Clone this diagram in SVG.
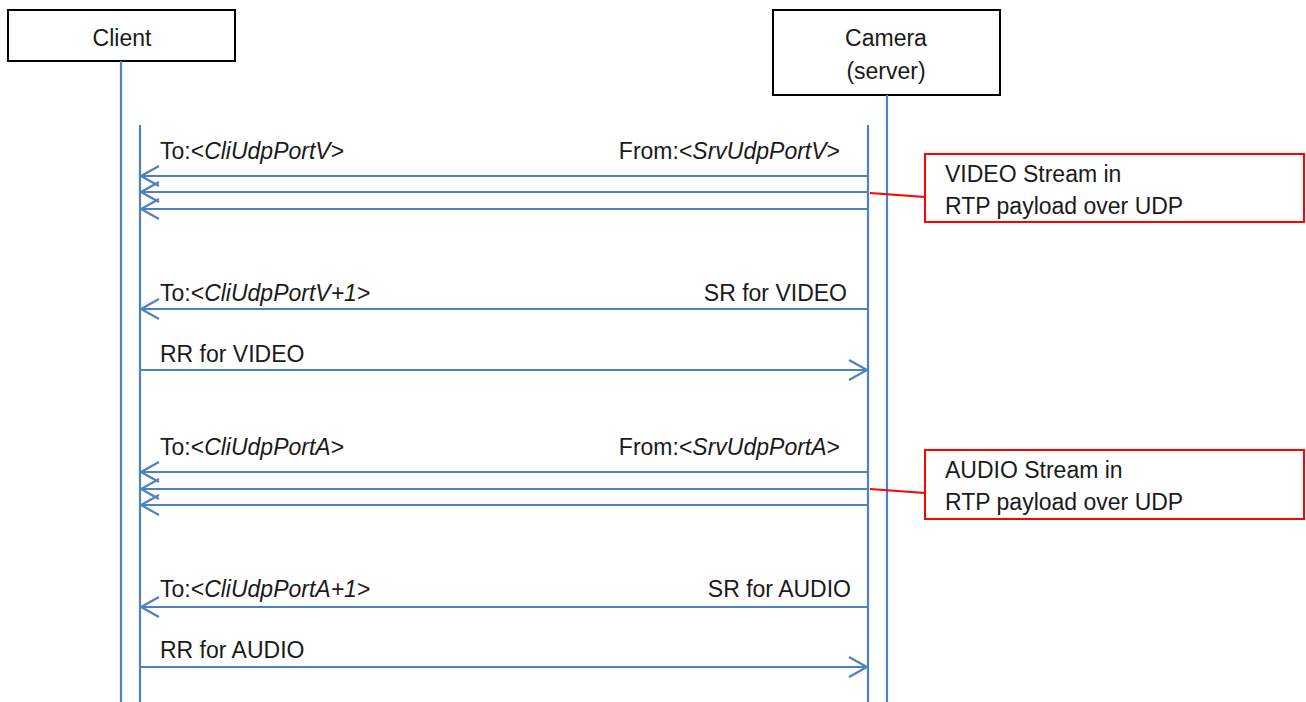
<svg xmlns="http://www.w3.org/2000/svg" width="1306" height="702" viewBox="0 0 1306 702">
<style>
text{font-family:"Liberation Sans",Arial,sans-serif;font-size:23px;fill:#1a1a1a}
.i{font-style:italic}
.box{fill:#fff;stroke:#000;stroke-width:2}
.life{stroke:#4F81BD;stroke-width:2.2;fill:none}
.msg{stroke:#4F81BD;stroke-width:2.2;fill:none;marker-end:url(#arr)}
.note{fill:#fff;stroke:#FF0000;stroke-width:2}
.link{stroke:#FF0000;stroke-width:2;fill:none}
</style>
<defs>
<marker id="arr" markerUnits="userSpaceOnUse" viewBox="-20 -12 22 24" markerWidth="22" markerHeight="24" refX="0" refY="0" orient="auto" overflow="visible">
<path d="M-18,-10 L0,0 L-18,10" fill="none" stroke="#4F81BD" stroke-width="2.2"/>
</marker>
</defs>
<rect width="1306" height="702" fill="#fff"/>
<g id="client">
<rect class="box" x="8" y="10" width="227" height="51"/>
<text x="122" y="46" text-anchor="middle">Client</text>
<line class="life" x1="121" y1="61" x2="121" y2="702"/>
<line class="life" x1="140" y1="125" x2="140" y2="702"/>
</g>
<g id="camera">
<rect class="box" x="773" y="10" width="227" height="85"/>
<text x="886" y="46" text-anchor="middle">Camera</text>
<text x="886" y="79" text-anchor="middle">(server)</text>
<line class="life" x1="887" y1="95" x2="887" y2="702"/>
<line class="life" x1="868" y1="125" x2="868" y2="702"/>
</g>
<g id="note-video">
<rect class="note" x="925" y="154" width="379" height="68"/>
<text x="945" y="182">VIDEO Stream in</text>
<text x="945" y="214">RTP payload over UDP</text>
</g>
<g id="note-audio">
<rect class="note" x="925" y="450" width="379" height="69"/>
<text x="945" y="478">AUDIO Stream in</text>
<text x="945" y="510">RTP payload over UDP</text>
</g>
<g id="connectors">
<line class="msg" x1="868" y1="176" x2="141" y2="176"/>
<line class="msg" x1="868" y1="192" x2="141" y2="192"/>
<line class="msg" x1="868" y1="209" x2="141" y2="209"/>
<line class="link" x1="870" y1="193" x2="925" y2="197"/>
<line class="msg" x1="868" y1="309" x2="141" y2="309"/>
<line class="msg" x1="140" y1="370" x2="867" y2="370"/>
<line class="msg" x1="868" y1="472" x2="141" y2="472"/>
<line class="msg" x1="868" y1="489" x2="141" y2="489"/>
<line class="msg" x1="868" y1="505" x2="141" y2="505"/>
<line class="link" x1="870" y1="489" x2="925" y2="493"/>
<line class="msg" x1="868" y1="607" x2="141" y2="607"/>
<line class="msg" x1="140" y1="667" x2="867" y2="667"/>
</g>
<g id="labels">
<text x="160" y="159">To:&lt;<tspan class="i">CliUdpPortV</tspan>&gt;</text>
<text x="840" y="159" text-anchor="end">From:&lt;<tspan class="i">SrvUdpPortV</tspan>&gt;</text>
<text x="160" y="301">To:&lt;<tspan class="i">CliUdpPortV+1</tspan>&gt;</text>
<text x="847" y="301" text-anchor="end">SR for VIDEO</text>
<text x="160" y="362">RR for VIDEO</text>
<text x="160" y="455">To:&lt;<tspan class="i">CliUdpPortA</tspan>&gt;</text>
<text x="840" y="455" text-anchor="end">From:&lt;<tspan class="i">SrvUdpPortA</tspan>&gt;</text>
<text x="160" y="597">To:&lt;<tspan class="i">CliUdpPortA+1</tspan>&gt;</text>
<text x="851" y="597" text-anchor="end">SR for AUDIO</text>
<text x="160" y="658">RR for AUDIO</text>
</g>
</svg>
